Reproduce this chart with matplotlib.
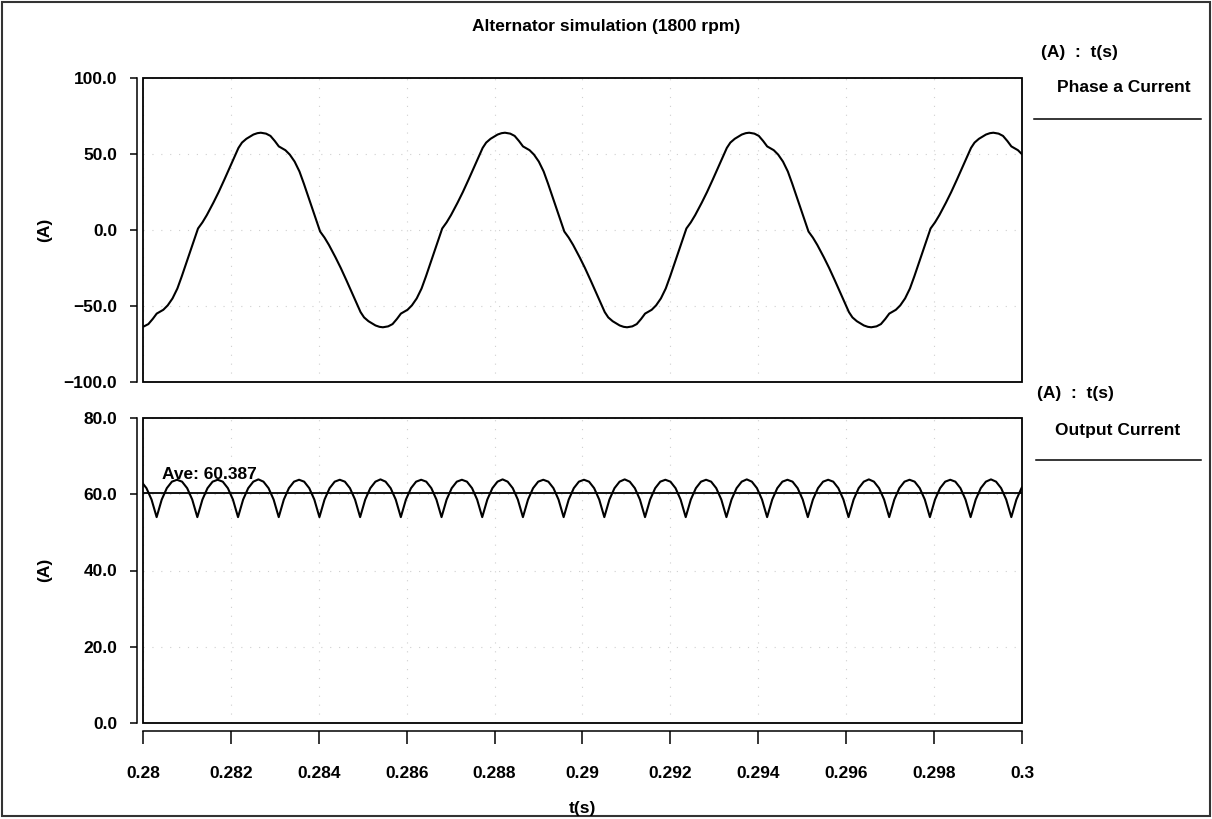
import numpy as np
import matplotlib
matplotlib.use("Agg")
import matplotlib.pyplot as plt
from matplotlib.patches import Rectangle
from matplotlib.lines import Line2D

plt.rcParams['font.family'] = ['Liberation Sans', 'DejaVu Sans']
plt.rcParams['font.weight'] = 'bold'

# ---------------------------------------------------------------- data
title = "Alternator simulation (1800 rpm)"
x_ticks = [0.28, 0.282, 0.284, 0.286, 0.288, 0.29, 0.292, 0.294, 0.296, 0.298, 0.3]
x_tick_labels = ["0.28", "0.282", "0.284", "0.286", "0.288", "0.29",
                 "0.292", "0.294", "0.296", "0.298", "0.3"]
phase_y_ticks = [-100, -50, 0, 50, 100]
output_y_ticks = [0, 20, 40, 60, 80]

# Phase a current (A) against time (s), one row per half cycle
phase_a_t = [
    0.279902, 0.280022, 0.280122, 0.280222, 0.280312, 0.280462, 0.280562, 0.280672,
    0.280782, 0.280882, 0.280982, 0.281092, 0.281252, 0.281352, 0.281452, 0.281602,
    0.281722, 0.281852, 0.281982, 0.282082, 0.282172, 0.282252, 0.282352, 0.282512,
    0.282602,
    0.282680, 0.282800, 0.282900, 0.283000, 0.283090, 0.283240, 0.283340, 0.283450,
    0.283560, 0.283660, 0.283760, 0.283870, 0.284030, 0.284130, 0.284230, 0.284380,
    0.284500, 0.284630, 0.284760, 0.284860, 0.284950, 0.285030, 0.285130, 0.285290,
    0.285380,
    0.285458, 0.285578, 0.285678, 0.285778, 0.285868, 0.286018, 0.286118, 0.286228,
    0.286338, 0.286438, 0.286538, 0.286648, 0.286808, 0.286908, 0.287008, 0.287158,
    0.287278, 0.287408, 0.287538, 0.287638, 0.287728, 0.287808, 0.287908, 0.288068,
    0.288158,
    0.288236, 0.288356, 0.288456, 0.288556, 0.288646, 0.288796, 0.288896, 0.289006,
    0.289116, 0.289216, 0.289316, 0.289426, 0.289586, 0.289686, 0.289786, 0.289936,
    0.290056, 0.290186, 0.290316, 0.290416, 0.290506, 0.290586, 0.290686, 0.290846,
    0.290936,
    0.291014, 0.291134, 0.291234, 0.291334, 0.291424, 0.291574, 0.291674, 0.291784,
    0.291894, 0.291994, 0.292094, 0.292204, 0.292364, 0.292464, 0.292564, 0.292714,
    0.292834, 0.292964, 0.293094, 0.293194, 0.293284, 0.293364, 0.293464, 0.293624,
    0.293714,
    0.293792, 0.293912, 0.294012, 0.294112, 0.294202, 0.294352, 0.294452, 0.294562,
    0.294672, 0.294772, 0.294872, 0.294982, 0.295142, 0.295242, 0.295342, 0.295492,
    0.295612, 0.295742, 0.295872, 0.295972, 0.296062, 0.296142, 0.296242, 0.296402,
    0.296492,
    0.296570, 0.296690, 0.296790, 0.296890, 0.296980, 0.297130, 0.297230, 0.297340,
    0.297450, 0.297550, 0.297650, 0.297760, 0.297920, 0.298020, 0.298120, 0.298270,
    0.298390, 0.298520, 0.298650, 0.298750, 0.298840, 0.298920, 0.299020, 0.299180,
    0.299270,
    0.299348, 0.299468, 0.299568, 0.299668, 0.299758, 0.299908, 0.300008, 0.300118,
]
phase_a_i = [
    -64.0, -63.4, -61.9, -58.5, -55.0, -52.5, -49.6, -45.0,
    -38.5, -30.5, -22.0, -12.5, 1.0, 5.0, 9.8, 18.0,
    25.0, 33.2, 41.6, 48.0, 54.0, 57.5, 60.0, 62.8,
    63.7,
    64.0, 63.4, 61.9, 58.5, 55.0, 52.5, 49.6, 45.0,
    38.5, 30.5, 22.0, 12.5, -1.0, -5.0, -9.8, -18.0,
    -25.0, -33.2, -41.6, -48.0, -54.0, -57.5, -60.0, -62.8,
    -63.7,
    -64.0, -63.4, -61.9, -58.5, -55.0, -52.5, -49.6, -45.0,
    -38.5, -30.5, -22.0, -12.5, 1.0, 5.0, 9.8, 18.0,
    25.0, 33.2, 41.6, 48.0, 54.0, 57.5, 60.0, 62.8,
    63.7,
    64.0, 63.4, 61.9, 58.5, 55.0, 52.5, 49.6, 45.0,
    38.5, 30.5, 22.0, 12.5, -1.0, -5.0, -9.8, -18.0,
    -25.0, -33.2, -41.6, -48.0, -54.0, -57.5, -60.0, -62.8,
    -63.7,
    -64.0, -63.4, -61.9, -58.5, -55.0, -52.5, -49.6, -45.0,
    -38.5, -30.5, -22.0, -12.5, 1.0, 5.0, 9.8, 18.0,
    25.0, 33.2, 41.6, 48.0, 54.0, 57.5, 60.0, 62.8,
    63.7,
    64.0, 63.4, 61.9, 58.5, 55.0, 52.5, 49.6, 45.0,
    38.5, 30.5, 22.0, 12.5, -1.0, -5.0, -9.8, -18.0,
    -25.0, -33.2, -41.6, -48.0, -54.0, -57.5, -60.0, -62.8,
    -63.7,
    -64.0, -63.4, -61.9, -58.5, -55.0, -52.5, -49.6, -45.0,
    -38.5, -30.5, -22.0, -12.5, 1.0, 5.0, 9.8, 18.0,
    25.0, 33.2, 41.6, 48.0, 54.0, 57.5, 60.0, 62.8,
    63.7,
    64.0, 63.4, 61.9, 58.5, 55.0, 52.5, 49.6, 45.0,
]

# Rectified output current (A), sampled every 115.75 us
output_t_start, output_t_end, output_samples = 0.279963, 0.300104, 175
output_i = [
    63.3, 61.6, 58.6,
    54.0, 58.6, 61.6, 63.3, 63.8, 63.3, 61.6, 58.6,
    54.0, 58.6, 61.6, 63.3, 63.8, 63.3, 61.6, 58.6,
    54.0, 58.6, 61.6, 63.3, 63.9, 63.3, 61.6, 58.6,
    54.0, 58.6, 61.6, 63.3, 63.8, 63.3, 61.6, 58.6,
    54.0, 58.6, 61.6, 63.3, 63.8, 63.3, 61.6, 58.6,
    54.0, 58.6, 61.6, 63.3, 63.9, 63.3, 61.6, 58.6,
    54.0, 58.6, 61.6, 63.3, 63.8, 63.3, 61.6, 58.6,
    54.0, 58.6, 61.6, 63.3, 63.8, 63.3, 61.6, 58.6,
    54.0, 58.6, 61.6, 63.3, 63.9, 63.3, 61.6, 58.6,
    54.0, 58.6, 61.6, 63.3, 63.8, 63.3, 61.6, 58.6,
    54.0, 58.6, 61.6, 63.3, 63.8, 63.3, 61.6, 58.6,
    54.0, 58.6, 61.6, 63.3, 63.9, 63.3, 61.6, 58.6,
    54.0, 58.6, 61.6, 63.3, 63.8, 63.3, 61.6, 58.6,
    54.0, 58.6, 61.6, 63.3, 63.8, 63.3, 61.6, 58.6,
    54.0, 58.6, 61.6, 63.3, 63.9, 63.3, 61.6, 58.6,
    54.0, 58.6, 61.6, 63.3, 63.8, 63.3, 61.6, 58.6,
    54.0, 58.6, 61.6, 63.3, 63.8, 63.3, 61.6, 58.6,
    54.0, 58.6, 61.6, 63.3, 63.9, 63.3, 61.6, 58.6,
    54.0, 58.6, 61.6, 63.3, 63.8, 63.3, 61.6, 58.6,
    54.0, 58.6, 61.6, 63.3, 63.8, 63.3, 61.6, 58.6,
    54.0, 58.6, 61.6, 63.3, 63.9, 63.3, 61.6, 58.6,
    54.0, 58.6, 61.6, 63.3,
]
output_average = 60.387

# ---------------------------------------------------------------- figure
W, H = 1212, 819
FS = 12.5
fig = plt.figure(figsize=(W / 100, H / 100), dpi=100)
fig.patch.set_facecolor("white")


def fx(px):
    return px / W


def fy(py):
    return 1 - py / H


left, right = 143, 1022
ax1 = fig.add_axes([fx(left), fy(382), fx(right) - fx(left), fy(78) - fy(382)])
ax2 = fig.add_axes([fx(left), fy(723), fx(right) - fx(left), fy(418) - fy(723)])

grid_style = dict(color="#cfcfcf", linestyle=(0, (1, 7)), linewidth=0.8)

for ax in (ax1, ax2):
    ax.set_xlim(0.28, 0.3)
    for side in ("top", "right"):
        ax.spines[side].set_visible(False)
    ax.spines["left"].set_position(("outward", 4.5))
    ax.spines["left"].set_linewidth(1.1)
    ax.add_patch(Rectangle((0, 0), 1, 1, transform=ax.transAxes, fill=False,
                           edgecolor="black", linewidth=1.3, clip_on=False, zorder=5))
    ax.set_xticks(x_ticks)
    ax.grid(True, **grid_style)
    ax.tick_params(axis="y", direction="out", length=5, width=1.1, pad=9,
                   labelsize=FS)

line_style = dict(color="black", linewidth=1.5, zorder=4,
                  solid_joinstyle="round", solid_capstyle="round")

# Phase a current panel
ax1.plot(phase_a_t, phase_a_i, **line_style)
ax1.set_ylim(-100, 100)
ax1.set_yticks(phase_y_ticks)
ax1.set_yticklabels([f"{v:.1f}".replace("-", "\u2212") for v in phase_y_ticks])
ax1.spines["bottom"].set_visible(False)
ax1.tick_params(axis="x", bottom=False, labelbottom=False)

# Output current panel
output_t = np.linspace(output_t_start, output_t_end, output_samples)
ax2.plot(output_t, output_i, **line_style)
ax2.axhline(output_average, color="black", linewidth=1.3, zorder=4)
ax2.text(0.28044, 64.1, f"Ave: {output_average:.3f}", fontsize=FS,
         fontweight="bold", ha="left", va="baseline", zorder=6)
ax2.set_ylim(0, 80)
ax2.set_yticks(output_y_ticks)
ax2.set_yticklabels([f"{v:.1f}" for v in output_y_ticks])
ax2.spines["bottom"].set_position(("outward", 5.5))
ax2.spines["bottom"].set_linewidth(1.1)
ax2.set_xticklabels(x_tick_labels)
ax2.tick_params(axis="x", direction="out", length=9.5, width=1.1, pad=16,
                labelsize=FS)

# titles and axis labels
fig.text(0.5, fy(26), title, ha="center", va="center", fontsize=FS,
         fontweight="bold")
fig.text(fx(582), fy(808), "t(s)", ha="center", va="center", fontsize=FS,
         fontweight="bold")
fig.text(fx(45), fy(230), "(A)", ha="center", va="center", rotation=90,
         fontsize=FS, fontweight="bold")
fig.text(fx(45), fy(570), "(A)", ha="center", va="center", rotation=90,
         fontsize=FS, fontweight="bold")

# legend block on the right
fig.text(fx(1041), fy(52), "(A)  :  t(s)", ha="left", va="center", fontsize=FS,
         fontweight="bold")
fig.text(fx(1124), fy(88), "Phase a Current", ha="center", va="center",
         fontsize=FS, fontweight="bold")
fig.add_artist(Line2D([fx(1034), fx(1201)], [fy(118.5), fy(118.5)],
                      color="black", linewidth=1.1))
fig.text(fx(1037), fy(393), "(A)  :  t(s)", ha="left", va="center", fontsize=FS,
         fontweight="bold")
fig.text(fx(1118), fy(430), "Output Current", ha="center", va="center",
         fontsize=FS, fontweight="bold")
fig.add_artist(Line2D([fx(1036), fx(1201)], [fy(460), fy(460)],
                      color="black", linewidth=1.1))

# outer frame
fig.add_artist(Rectangle((fx(2), fy(816)), fx(1208), fy(2) - fy(816),
                         transform=fig.transFigure, fill=False,
                         edgecolor="#333333", linewidth=1.5))

fig.savefig("out.png", dpi=100, facecolor="white")
